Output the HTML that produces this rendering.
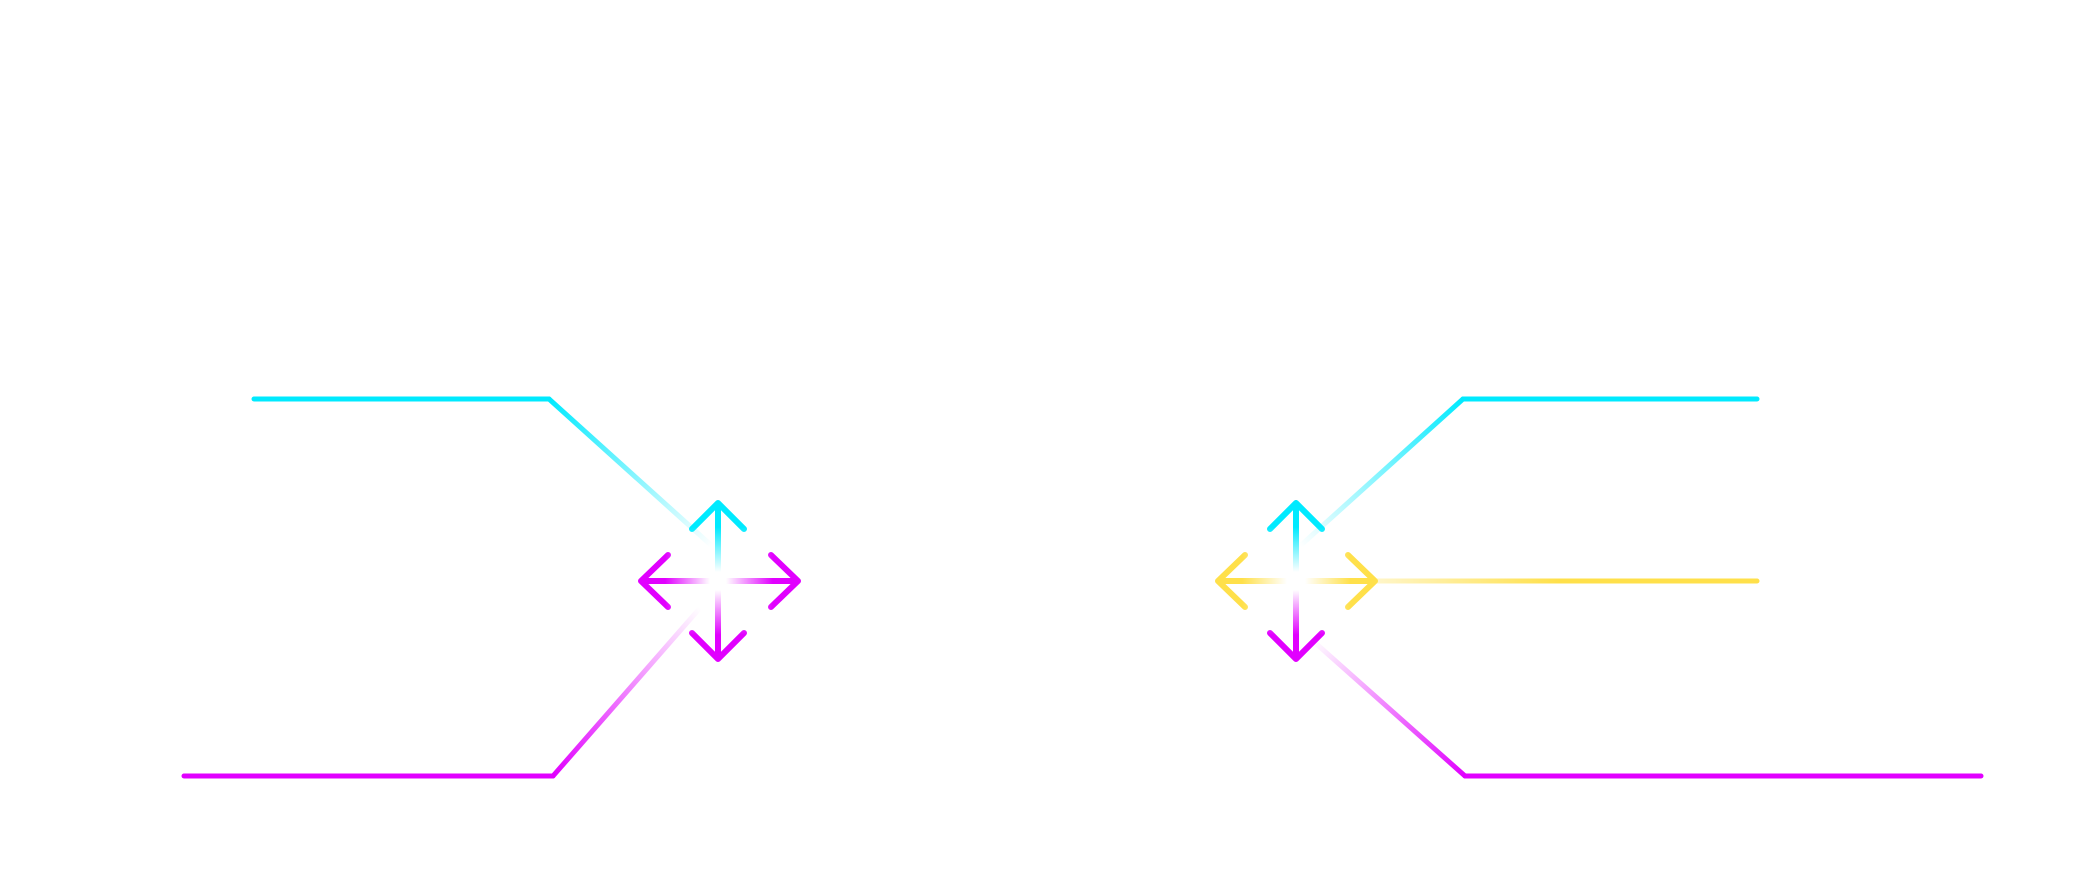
<!DOCTYPE html>
<html><head><meta charset="utf-8"><style>html,body{margin:0;padding:0;background:#fff}svg{display:block}</style></head>
<body>
<svg width="2076" height="880" viewBox="0 0 2076 880" xmlns="http://www.w3.org/2000/svg">
<defs>
<linearGradient id="gTL" gradientUnits="userSpaceOnUse" x1="549" y1="399" x2="712" y2="546"><stop offset="0" stop-color="#00eaff"/><stop offset="1" stop-color="#00eaff" stop-opacity="0"/></linearGradient>
<linearGradient id="gBL" gradientUnits="userSpaceOnUse" x1="553" y1="776" x2="700" y2="608"><stop offset="0" stop-color="#e100ff"/><stop offset="1" stop-color="#e100ff" stop-opacity="0"/></linearGradient>
<linearGradient id="gTR" gradientUnits="userSpaceOnUse" x1="1463" y1="399" x2="1300" y2="546"><stop offset="0" stop-color="#00eaff"/><stop offset="1" stop-color="#00eaff" stop-opacity="0"/></linearGradient>
<linearGradient id="gBR" gradientUnits="userSpaceOnUse" x1="1465" y1="776" x2="1312" y2="640"><stop offset="0" stop-color="#e100ff"/><stop offset="1" stop-color="#e100ff" stop-opacity="0"/></linearGradient>
<linearGradient id="gY" gradientUnits="userSpaceOnUse" x1="1376" y1="581" x2="1560" y2="581"><stop offset="0" stop-color="#ffe04a" stop-opacity="0.3"/><stop offset="1" stop-color="#ffe04a"/></linearGradient>
<!-- icon gradients, relative to each arrow -->
<linearGradient id="up" x1="0" y1="0" x2="0" y2="1"><stop offset="0.35" stop-color="#00eaff"/><stop offset="1" stop-color="#00eaff" stop-opacity="0"/></linearGradient>
<linearGradient id="dnM" x1="0" y1="1" x2="0" y2="0"><stop offset="0.35" stop-color="#e100ff"/><stop offset="1" stop-color="#e100ff" stop-opacity="0"/></linearGradient>
<linearGradient id="lfM" x1="0" y1="0" x2="1" y2="0"><stop offset="0.35" stop-color="#e100ff"/><stop offset="1" stop-color="#e100ff" stop-opacity="0"/></linearGradient>
<linearGradient id="rtM" x1="1" y1="0" x2="0" y2="0"><stop offset="0.35" stop-color="#e100ff"/><stop offset="1" stop-color="#e100ff" stop-opacity="0"/></linearGradient>
<linearGradient id="lfY" x1="0" y1="0" x2="1" y2="0"><stop offset="0.35" stop-color="#ffe04a"/><stop offset="1" stop-color="#ffe04a" stop-opacity="0"/></linearGradient>
<linearGradient id="rtY" x1="1" y1="0" x2="0" y2="0"><stop offset="0.35" stop-color="#ffe04a"/><stop offset="1" stop-color="#ffe04a" stop-opacity="0"/></linearGradient>
</defs>
<g fill="none" stroke-width="5" stroke-linecap="round" stroke-linejoin="round">
<!-- left connectors -->
<path d="M254 399 H549" stroke="#00eaff"/>
<path d="M549 399 L712 546" stroke="url(#gTL)"/>
<path d="M184 776 H553" stroke="#e100ff"/>
<path d="M553 776 L700 608" stroke="url(#gBL)"/>
<!-- right connectors -->
<path d="M1463 399 H1757" stroke="#00eaff"/>
<path d="M1463 399 L1300 546" stroke="url(#gTR)"/>
<path d="M1465 776 H1981" stroke="#e100ff"/>
<path d="M1465 776 L1312 640" stroke="url(#gBR)"/>
<path d="M1376 581 H1757" stroke="url(#gY)"/>
</g>
<g fill="none" stroke-width="6" stroke-linecap="round" stroke-linejoin="round">
<!-- left icon center 718,581 -->
<path d="M692 529 L718 503 L744 529 M718 503 V572" stroke="url(#up)"/>
<path d="M692 633 L718 659 L744 633 M718 659 V590" stroke="url(#dnM)"/>
<path d="M668 555 L641 581 L668 607 M641 581 H710" stroke="url(#lfM)"/>
<path d="M771 555 L798 581 L771 607 M798 581 H726" stroke="url(#rtM)"/>
<!-- right icon center 1296,581 -->
<path d="M1270 529 L1296 503 L1322 529 M1296 503 V572" stroke="url(#up)"/>
<path d="M1270 633 L1296 659 L1322 633 M1296 659 V590" stroke="url(#dnM)"/>
<path d="M1245 555 L1218 581 L1245 607 M1218 581 H1287" stroke="url(#lfY)"/>
<path d="M1348 555 L1375 581 L1348 607 M1375 581 H1305" stroke="url(#rtY)"/>
</g>
</svg>
</body></html>
